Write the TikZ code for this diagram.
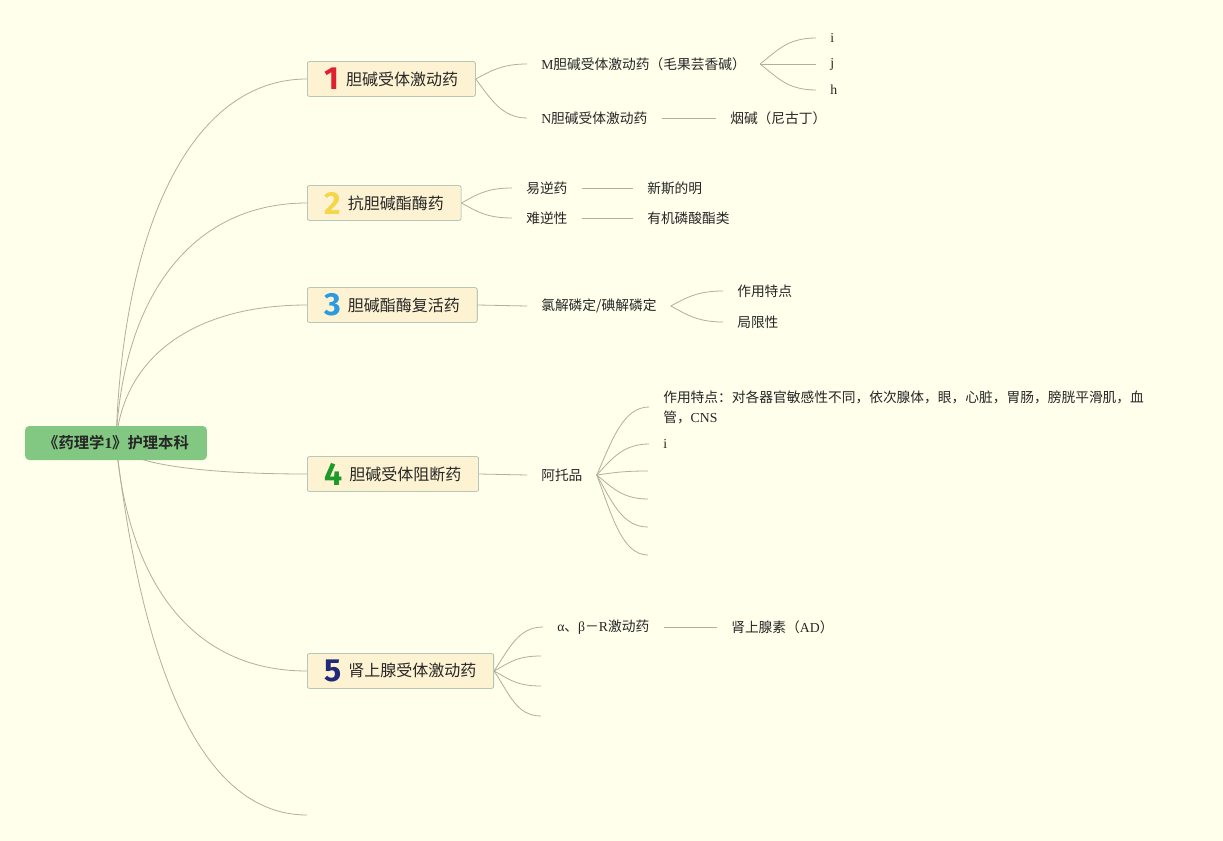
\documentclass[tikz,border=0pt]{standalone}
\usepackage{fontspec}
\setmainfont{Liberation Serif}
\newfontfamily\cjk{Noto Sans CJK SC}[BoldFont={Noto Sans CJK SC Bold}]
\newfontfamily\numfont{Fira Sans}
\usetikzlibrary{backgrounds}
\definecolor{MapBack}{HTML}{FFFFEC}
\definecolor{TopicFill}{HTML}{FDF2D2}
\definecolor{TopicBorder}{HTML}{8FB0A0}
\definecolor{RootFill}{HTML}{82C882}
\definecolor{BranchLine}{HTML}{B5AE98}
\definecolor{NumRed}{HTML}{E0202E}
\definecolor{NumYellow}{HTML}{F4D64A}
\definecolor{NumBlue}{HTML}{2A9BE0}
\definecolor{NumGreen}{HTML}{1E9A2A}
\definecolor{NumNavy}{HTML}{1F2A78}
\newcommand{\rmtxt}[1]{{\rmfamily #1}}
\newcommand{\topicnum}[2]{\raisebox{-3.5pt}{\numfont\bfseries\fontsize{24}{24}\selectfont\color{#1}#2}\hspace{5pt}}
\tikzset{every node/.style={font=\cjk\fontsize{10.3}{15}\selectfont,text=black!85},
 root/.style={fill=RootFill,rounded corners=3pt,minimum height=25.5pt,inner xsep=13.5pt,
 font=\cjk\bfseries\fontsize{11.5}{14}\selectfont},
 topic/.style={draw=TopicBorder,fill=TopicFill,rounded corners=1.5pt,anchor=west,
 minimum height=26pt,inner xsep=13pt,inner ysep=0pt,font=\cjk\fontsize{12}{14}\selectfont},
 leaf/.style={anchor=west,inner xsep=10.5pt},
 branch/.style={draw=BranchLine,line width=0.6pt}}
\begin{document}
\begin{tikzpicture}[x=0.75pt,y=-0.75pt]
% root and main topics
\node[root] (root) at (116,443) {《药理学\rmtxt{1}》护理本科};
\node[topic] (t1) at (307,79) {\topicnum{NumRed}{1}胆碱受体激动药};
\node[topic] (t2) at (307,203) {\topicnum{NumYellow}{2}抗胆碱酯酶药};
\node[topic] (t3) at (307,305) {\topicnum{NumBlue}{3}胆碱酯酶复活药};
\node[topic] (t4) at (307,474) {\topicnum{NumGreen}{4}胆碱受体阻断药};
\node[topic] (t5) at (307,671) {\topicnum{NumNavy}{5}肾上腺受体激动药};
\coordinate (t6) at (307,815);
% topic 1
\node[leaf] (m1) at (527,64) {\rmtxt{M}胆碱受体激动药（毛果芸香碱）};
\node[leaf] (n1) at (527,118) {\rmtxt{N}胆碱受体激动药};
\node[leaf] (m1a) at (816,38) {\rmtxt{i}};
\node[leaf] (m1b) at (816,64) {\rmtxt{j}};
\node[leaf] (m1c) at (816,90) {\rmtxt{h}};
\node[leaf] (n1a) at (716,118) {烟碱（尼古丁）};
% topic 2
\node[leaf] (e2) at (512,188) {易逆药};
\node[leaf] (h2) at (512,218) {难逆性};
\node[leaf] (e2a) at (633,188) {新斯的明};
\node[leaf] (h2a) at (633,218) {有机磷酸酯类};
% topic 3
\node[leaf] (p3) at (527,306) {氯解磷定/碘解磷定};
\node[leaf] (p3a) at (723,291) {作用特点};
\node[leaf] (p3b) at (723,322) {局限性};
% topic 4
\node[leaf] (a4) at (527,475) {阿托品};
\node[leaf,align=left] (a4a) at (649,407) {作用特点：对各器官敏感性不同，依次腺体，眼，心脏，胃肠，膀胱平滑肌，血\\管，\rmtxt{CNS}};
\node[leaf] (a4b) at (649,444) {\rmtxt{i}};
\coordinate (a4c) at (648,471);
\coordinate (a4d) at (648,499);
\coordinate (a4e) at (648,527);
\coordinate (a4f) at (648,555);
% topic 5
\node[leaf] (b5) at (543,627) {\rmtxt{α}、\rmtxt{β}－\rmtxt{R}激动药};
\node[leaf] (b5a) at (717,627) {肾上腺素（\rmtxt{AD}）};
\coordinate (b5b) at (541,656);
\coordinate (b5c) at (541,686);
\coordinate (b5d) at (541,716);
\begin{scope}[on background layer]
\fill[MapBack] (0,0) rectangle (1223,841);
\draw[branch] (root.center) .. controls (122,230) and (190,79) .. (t1.west);
\draw[branch] (root.center) .. controls (122,299) and (190,203) .. (t2.west);
\draw[branch] (root.center) .. controls (122,360) and (190,305) .. (t3.west);
\draw[branch] (root.center) .. controls (122,462) and (190,474) .. (t4.west);
\draw[branch] (root.center) .. controls (128,580) and (190,671) .. (t5.west);
\draw[branch] (root.center) .. controls (140,650) and (195,815) .. (t6);
% branches of topic 1
\draw[branch] (t1.east) .. controls +(15,-8) and +(-25,0) .. (m1.west);
\draw[branch] (t1.east) .. controls +(15,20) and +(-25,0) .. (n1.west);
\draw[branch] (m1.east) .. controls +(17,-13) and +(-29,0) .. (m1a.west);
\draw[branch] (m1.east) -- (m1b.west);
\draw[branch] (m1.east) .. controls +(17,13) and +(-29,0) .. (m1c.west);
\draw[branch] (n1.east) -- (n1a.west);
% branches of topic 2
\draw[branch] (t2.east) .. controls +(15,-8) and +(-26,0) .. (e2.west);
\draw[branch] (t2.east) .. controls +(15,8) and +(-26,0) .. (h2.west);
\draw[branch] (e2.east) -- (e2a.west);
\draw[branch] (h2.east) -- (h2a.west);
% branches of topic 3
\draw[branch] (t3.east) -- (p3.west);
\draw[branch] (p3.east) .. controls +(15,-8) and +(-26,0) .. (p3a.west);
\draw[branch] (p3.east) .. controls +(15,8) and +(-26,0) .. (p3b.west);
% branches of topic 4
\draw[branch] (t4.east) -- (a4.west);
\draw[branch] (a4.east) .. controls +(15,-34) and +(-26,0) .. (a4a.west);
\draw[branch] (a4.east) .. controls +(15,-16) and +(-26,0) .. (a4b.west);
\draw[branch] (a4.east) .. controls +(15,-2) and +(-26,0) .. (a4c);
\draw[branch] (a4.east) .. controls +(15,12) and +(-26,0) .. (a4d);
\draw[branch] (a4.east) .. controls +(15,26) and +(-26,0) .. (a4e);
\draw[branch] (a4.east) .. controls +(15,40) and +(-26,0) .. (a4f);
% branches of topic 5
\draw[branch] (t5.east) .. controls +(15,-22) and +(-25,0) .. (b5.west);
\draw[branch] (t5.east) .. controls +(15,-8) and +(-25,0) .. (b5b);
\draw[branch] (t5.east) .. controls +(15,8) and +(-25,0) .. (b5c);
\draw[branch] (t5.east) .. controls +(15,22) and +(-25,0) .. (b5d);
\draw[branch] (b5.east) -- (b5a.west);
\end{scope}
\end{tikzpicture}
\end{document}
